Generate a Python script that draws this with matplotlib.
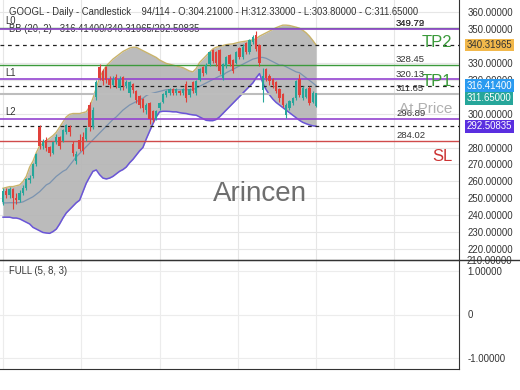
import matplotlib
matplotlib.use("Agg")
import matplotlib.pyplot as plt
import matplotlib.transforms as mtransforms
from matplotlib.lines import Line2D

plt.rcParams['font.family'] = ['Liberation Sans', 'DejaVu Sans']

# OHLC daily candles, GOOGL
opens = [248, 254, 252, 255, 250, 249, 253, 256, 261, 263,
         270, 292, 281, 284, 280, 277, 283, 286, 284, 289,
         292, 282, 272, 284, 286, 285, 305, 292, 310, 327,
         325, 327, 320, 317, 321, 315, 321, 316, 312, 317,
         313, 310, 308, 302, 306, 301, 297, 303, 307, 311,
         312, 314, 312, 313, 312, 317, 311, 318, 312, 320,
         327, 324, 329, 337, 336, 337, 321, 328, 334, 331,
         330, 338, 333, 341, 336, 342, 346, 340, 314, 326,
         322, 320, 318, 314, 311, 299, 303, 306, 309, 320,
         309, 310, 315, 307, 304.21]
closes = [254, 252, 255, 250, 249, 253, 256, 261, 262, 270,
          276, 281, 283, 280, 277, 283, 286, 281, 290, 293,
          289, 277, 276, 279, 278, 291, 292, 302, 318, 321,
          319, 320, 317, 320, 316, 320, 316, 318, 318, 314,
          308, 305, 303, 305, 297, 296, 301, 306, 311, 313,
          314, 312, 314, 312, 314, 309, 314, 313, 319, 326,
          324, 328, 336, 331, 330, 325, 329, 333, 329, 325,
          336, 333, 339, 336, 343, 345, 338, 330, 322, 321,
          319, 317, 313, 309, 305, 305, 307, 309, 319, 311,
          315, 314, 306, 312, 311.65]
highs = [256, 256, 257, 256, 253, 255, 258, 262, 264, 271,
         277, 293, 285, 286, 281, 284, 288, 287, 291, 294,
         293, 284, 278, 288, 289, 292, 307, 304, 320, 329,
         326, 328, 322, 322, 323, 322, 322, 320, 319, 318,
         314, 311, 309, 306, 307, 302, 302, 307, 312, 314,
         315, 315, 315, 314, 315, 319, 315, 319, 320, 327,
         328, 330, 337, 338, 337, 338, 330, 334, 335, 332,
         337, 339, 341, 342, 344, 346, 348.5, 341, 327, 327,
         323, 321, 319, 315, 312, 306, 308, 310, 320, 323,
         316, 315, 316, 313, 312.33]
lows = [246, 250, 250, 244, 247, 248, 252, 255, 259, 262,
        269, 279, 279, 278, 275, 276, 282, 279, 283, 288,
        287, 275, 270, 278, 276, 284, 290, 291, 308, 320,
        317, 318, 315, 316, 315, 314, 314, 315, 310, 312,
        306, 303, 301, 300, 294, 295, 296, 302, 306, 310,
        311, 311, 311, 311, 311, 307, 310, 312, 311, 319,
        322, 323, 328, 330, 328, 323, 320, 327, 328, 324,
        329, 332, 332, 335, 335, 341, 337, 328, 307, 319,
        317, 315, 312, 307, 304, 297.5, 302, 305, 308, 310,
        308, 309, 305, 306, 303.8]

# Bollinger bands (20, 2)
bb_upper = [256, 256.5, 257, 257, 257.5, 258, 260, 263, 268.5, 272,
            277, 281, 282.5, 284, 285.5, 287, 289, 292, 295, 298,
            299.5, 300, 300, 300, 300.5, 301, 304, 309, 315, 321,
            325, 328, 330, 332, 333.5, 335, 336.5, 337.5, 338.5, 339,
            339, 338, 337, 336, 335, 334, 333, 331.5, 330.5, 329.5,
            329, 328.5, 328, 327.5, 327, 326, 325, 324.5, 326.5, 330,
            332, 334, 336, 338, 339, 339.5, 340, 340.5, 340.8, 341,
            341.5, 342, 342.3, 342.6, 343, 343.3, 344, 345.5, 346.5, 347.5,
            348.5, 349.5, 350.5, 351.3, 352, 352, 351.8, 351.3, 350.8, 350.2,
            349, 347.5, 345.5, 343, 340.31965]
bb_mid = [247.4, 247.4, 247.5, 247.5, 247.5, 247.6, 248, 249, 250, 251,
          252.5, 254, 256, 258, 259, 261, 263, 264.5, 266, 267,
          269.5, 272, 274.5, 276.5, 278.5, 280.5, 282.5, 284.5, 286.5, 288.5,
          290.5, 292.5, 294.5, 296.5, 298, 300, 302, 303.5, 305, 306,
          307, 308, 309, 310.5, 311.5, 312, 312.5, 313, 313.5, 314,
          314, 314, 314, 314, 314, 314, 314, 314, 315, 316,
          317, 318, 319, 320, 321, 322, 322.5, 324, 325, 326,
          327, 328, 329, 330, 331, 332, 332.5, 333, 333, 332.5,
          331.5, 330.5, 329.5, 328.5, 328.5, 327.5, 326.5, 325.5, 324.5, 324,
          322.5, 321, 319.5, 318, 316.414]
bb_lower = [239, 239, 239, 238.5, 238.5, 238, 237, 236, 235, 233,
            232, 231, 230, 229.7, 229.5, 230.5, 232, 235, 238.5, 241.5,
            243.5, 245.5, 247.5, 249, 254, 259, 262.6, 266, 266.8, 264,
            262, 261.5, 262, 263, 264.5, 266, 267, 268.5, 271, 273,
            275.5, 278, 280, 285, 289.5, 294, 298, 301, 301.3, 301.3,
            301.2, 301, 301, 300.5, 300.2, 300, 299.5, 299.2, 299, 298,
            297, 296, 295.8, 295.8, 296.5, 298, 300, 302, 304, 306,
            308, 310, 312, 314, 316, 318, 321, 323.5, 318, 314,
            311, 308.5, 306.5, 305, 303.5, 302, 300.5, 299, 297.5, 296,
            294.8, 294, 293.3, 292.8, 292.50835]

# horizontal levels
green_levels = [350.3, 328.45]
purple_levels = [349.72, 320.13, 296.89]
red_levels = [284.02]
bb_last = [340.31965, 316.414, 292.50835]
last_price = 311.65
level_labels = ["349.79", "349.72", "328.45", "320.13", "311.65", "296.89", "284.02"]
level_label_vals = [349.72, 349.72, 328.45, 320.13, 311.65, 296.89, 284.02]
price_ticks = [220, 230, 240, 250, 260, 270, 280, 300, 320, 330, 350, 360]
osc_ticks = [1, 0, -1]
osc_tick_labels = ["1.00000", "0", "-1.00000"]
grid_x = [0, 23.5, 47, 70.5, 94, 117.5]

fig = plt.figure(figsize=(5.2, 3.9), dpi=100)
ax1 = fig.add_axes([0, 130 / 390, 459 / 520, 260 / 390])
ax2 = fig.add_axes([0, 21 / 390, 459 / 520, 109 / 390])

x = list(range(len(closes)))
up_col, dn_col = '#26a69a', '#e0403a'
cols = [up_col if c >= o else dn_col for o, c in zip(opens, closes)]

# bollinger band
ax1.fill_between(x, bb_lower, bb_upper, color='#b4b4b4', alpha=0.9, zorder=1, lw=0)
ax1.plot(x, bb_upper, color='#c9b36a', lw=1, zorder=2)
ax1.plot(x, bb_lower, color='#6a55d8', lw=1.1, zorder=2)
ax1.plot(x, bb_mid, color='#7a93b0', lw=0.9, zorder=2)

# candles
ax1.vlines(x, lows, highs, colors=cols, lw=0.8, zorder=4)
ax1.bar(x, [abs(c - o) + 0.3 for o, c in zip(opens, closes)],
        bottom=[min(o, c) for o, c in zip(opens, closes)],
        width=0.7, color=cols, zorder=5)

# levels
for v in green_levels:
    ax1.axhline(v, color='#3c9a3c', lw=1, zorder=3)
for v in purple_levels:
    ax1.axhline(v, color='#9444d0', lw=1.2, zorder=3)
for v in red_levels:
    ax1.axhline(v, color='#d04a4a', lw=1, zorder=3)
for v in bb_last:
    ax1.axhline(v, color='#222222', lw=0.9, ls=(0, (3, 3)), zorder=3)
ax1.axhline(last_price, color='#bdbdbd', lw=1.5, zorder=3)

for lab, v in zip(level_labels, level_label_vals):
    ax1.text(118, v + 0.4, lab, fontsize=6.8, color='#333333', va='bottom', ha='left', zorder=6)

tr = mtransforms.blended_transform_factory(ax1.transAxes, ax1.transData)
ax1.text(0.985, 341.5, "TP2", transform=tr, fontsize=12, color='#3a9a3a', ha='right', va='center', zorder=6)
ax1.text(0.985, 319.0, "TP1", transform=tr, fontsize=12, color='#3a9a3a', ha='right', va='center', zorder=6)
ax1.text(0.985, 302.5, "At Price", transform=tr, fontsize=11, color='#b0b0b0', ha='right', va='center', zorder=6)
ax1.text(0.985, 274.8, "SL", transform=tr, fontsize=12, color='#cc3333', ha='right', va='center', zorder=6)

# headers
ax1.text(0.0196, 0.954, "GOOGL - Daily - Candlestick    94/114 - O:304.21000 - H:312.33000 - L:303.80000 - C:311.65000",
         transform=ax1.transAxes, fontsize=6.85, color='#333333', va='center', ha='left')
ax1.text(0.011, 0.919, "L0", transform=ax1.transAxes, fontsize=6.85, color='#333333', va='center')
ax1.text(0.0196, 0.888, "BB (20, 2)   316.41400/340.31965/292.50835", transform=ax1.transAxes,
         fontsize=6.85, color='#333333', va='center', zorder=1)
for lab, v in zip(["L1", "L2"], purple_levels[1:]):
    ax1.text(0.011, v + 1.0, lab, transform=tr, fontsize=6.85, color='#333333', va='bottom')

ax1.text(0.5665, 0.255, "Arincen", transform=ax1.transAxes, fontsize=20, color='#6e6e6e',
         ha='center', va='center', zorder=6)

ax1.set_xlim(-0.9, 136.9)
ax1.set_ylim(213.8, 366.8)
ax1.set_xticks(grid_x)
ax1.set_yticks(price_ticks)
ax1.set_yticklabels([f"{t:.5f}" for t in price_ticks])
ax1.yaxis.tick_right()
ax1.tick_params(axis='y', length=0, pad=6, labelsize=6.9, labelcolor='#333333')
ax1.tick_params(axis='x', length=0, labelbottom=False)
ax1.grid(True, color='#e6e6e6', lw=0.8)
ax1.set_axisbelow(True)
for s in ['top', 'left', 'bottom']:
    ax1.spines[s].set_visible(False)
ax1.spines['right'].set_color('#333333')

# price boxes at the right
boxes = [(340.31965, "340.31965", '#f2b84b', '#333333'),
         (316.414, "316.41400", '#2a9af0', 'white'),
         (308.9, "311.65000", '#26a69a', 'white'),
         (292.50835, "292.50835", '#5a2fe0', 'white')]
for v, lab, fc, tc in boxes:
    ax1.text(1.017, v, lab, transform=tr, fontsize=6.9, color=tc, va='center', ha='left', zorder=7,
             clip_on=False, bbox=dict(boxstyle='square,pad=0.15', fc=fc, ec='none'))
ax1.text(1.017, 213.3, "210.00000", transform=tr, fontsize=6.9, color='#333333', va='center', ha='left',
         clip_on=False)

# oscillator panel
ax2.set_xlim(-0.9, 136.9)
ax2.set_ylim(-1.26, 1.26)
ax2.set_xticks(grid_x)
ax2.set_yticks(osc_ticks)
ax2.set_yticklabels(osc_tick_labels)
ax2.yaxis.tick_right()
ax2.tick_params(axis='y', length=0, pad=6, labelsize=6.9, labelcolor='#333333')
ax2.tick_params(axis='x', length=0, labelbottom=False)
ax2.grid(True, color='#ececec', lw=0.8)
ax2.spines['left'].set_visible(False)
for s in ['top', 'right', 'bottom']:
    ax2.spines[s].set_color('#333333')
ax2.text(0.0196, 0.90, "FULL (5, 8, 3)", transform=ax2.transAxes, fontsize=6.85, color='#333333', va='center')

fig.add_artist(Line2D([0, 1], [1 - 260 / 390, 1 - 260 / 390], color='#333333', lw=1))

fig.savefig("out.png", dpi=100)
